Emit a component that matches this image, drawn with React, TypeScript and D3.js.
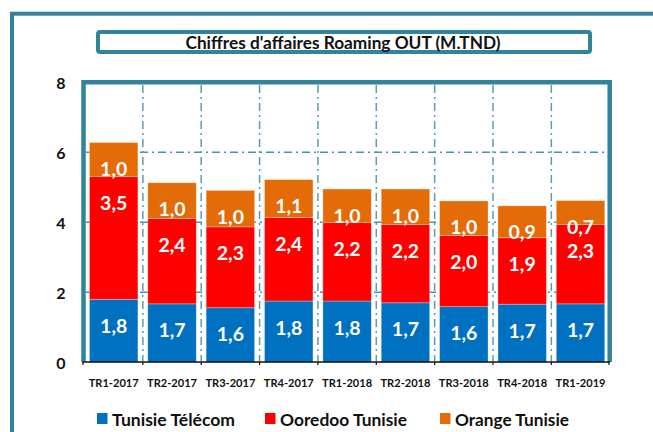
import React from 'react';
import * as d3 from 'd3';

// Chiffre d'affaires Roaming OUT par opérateur (M.TND)
const quarters = ['TR1-2017', 'TR2-2017', 'TR3-2017', 'TR4-2017', 'TR1-2018', 'TR2-2018', 'TR3-2018', 'TR4-2018', 'TR1-2019'];
const tunisieTelecom = [1.8, 1.67, 1.56, 1.75, 1.75, 1.7, 1.59, 1.66, 1.67];
const ooredoo = [3.51, 2.44, 2.31, 2.39, 2.24, 2.24, 2.03, 1.9, 2.27];
const orange = [0.97, 1.02, 1.04, 1.08, 0.96, 1.01, 0.99, 0.91, 0.68];
const seriesNames = ['Tunisie Télécom', 'Ooredoo Tunisie', 'Orange Tunisie'];
const seriesColors = ['#0070c0', '#ff0000', '#e36c09'];
const yTicks = [0, 2, 4, 6, 8];

const W = 653;
const H = 432;
const teal = '#31849b';
const font = 'Lato, "Open Sans", sans-serif';

const App: React.FC = () => {
  const x = d3.scaleBand<string>().domain(quarters).range([84.5, 609.7]).paddingInner(0.17).paddingOuter(0.085);
  const y = d3.scaleLinear().domain([0, 8]).range([362.3, 82.3]);
  const step = x.step();

  const rows = quarters.map((q, i) => ({ q, tt: tunisieTelecom[i], oo: ooredoo[i], or: orange[i] }));
  const stack = d3.stack<any>().keys(['tt', 'oo', 'or'])(rows);

  const fmt = (v: number) => v.toFixed(1).replace('.', ',');
  const boundaries = quarters.slice(1).map(q => (x(q) as number) - (step * 0.17) / 2);

  const legendX = [97, 265, 440];
  const legendW = [123, 127, 114];

  return (
    <div style={{ position: 'absolute', left: 0, top: 0 }}>
      <svg width={W} height={H} style={{ display: 'block', fontFamily: font }}>
        <rect width={W} height={H} fill="#fff" />
        {/* cadre extérieur */}
        <rect x={12} y={13.7} width={720} height={500} fill="none" stroke={teal} strokeWidth={4} />

        {/* titre */}
        <rect x={98} y={32} width={492} height={20} rx={2} fill="#fff" stroke={teal} strokeWidth={4} />
        <text x={343} y={43} textAnchor="middle" dominantBaseline="central" fontSize={16.5} fontWeight="bold"
          fill="#111" textLength={315} lengthAdjust="spacingAndGlyphs">
          Chiffres d'affaires Roaming OUT (M.TND)
        </text>

        {/* grille horizontale */}
        {[2, 4, 6].map(t => (
          <line key={t} x1={86} x2={608} y1={y(t)} y2={y(t)} stroke="#4a93a9" strokeWidth={1.5} strokeDasharray="8,4,2,4" />
        ))}
        {/* grille verticale */}
        {boundaries.map((b, i) => (
          <line key={i} x1={b} x2={b} y1={85} y2={361} stroke="#5a9db1" strokeWidth={1.5} strokeDasharray="8,4,2,4" />
        ))}

        {/* barres */}
        {stack.map((layer, si) => (
          <g key={si}>
            {layer.map((d, i) => (
              <rect key={i} x={x(quarters[i])} y={y(d[1])} width={x.bandwidth()} height={y(d[0]) - y(d[1])}
                fill={seriesColors[si]} stroke="#ffffff" strokeOpacity={0.35} strokeWidth={0.8} />
            ))}
          </g>
        ))}

        {/* étiquettes de données */}
        {stack.map((layer, si) => (
          <g key={'l' + si}>
            {layer.map((d, i) => (
              <text key={i} x={(x(quarters[i]) as number) + x.bandwidth() / 2} y={y(d[1]) + 26}
                textAnchor="middle" dominantBaseline="central" fill="#fff" fontSize={19.5} fontWeight="bold">
                {fmt(d[1] - d[0])}
              </text>
            ))}
          </g>
        ))}

        {/* cadre zone de tracé */}
        <path d={`M83.5,362 V82.3 H609.7 V362`} fill="none" stroke={teal} strokeWidth={4.5} />
        <line x1={82.5} x2={610} y1={362} y2={362} stroke="#111" strokeWidth={1.5} />
        {[83, ...boundaries, 609].map((b, i) => (
          <line key={i} x1={b} x2={b} y1={362} y2={365} stroke="#111" strokeWidth={1.2} />
        ))}

        {/* axe Y */}
        {yTicks.map(t => (
          <text key={t} x={61} y={y(t)} textAnchor="middle" dominantBaseline="central" fontSize={16} fontWeight="bold" fill="#111">
            {t}
          </text>
        ))}

        {/* axe X */}
        {quarters.map(q => (
          <text key={q} x={(x(q) as number) + x.bandwidth() / 2} y={382} textAnchor="middle" dominantBaseline="central"
            fontSize={11.5} fontWeight="bold" fill="#111" textLength={50} lengthAdjust="spacingAndGlyphs">
            {q}
          </text>
        ))}

        {/* légende */}
        {seriesNames.map((n, i) => (
          <g key={n}>
            <rect x={legendX[i]} y={413} width={10.5} height={11} fill={seriesColors[i]} />
            <text x={legendX[i] + 15} y={419} dominantBaseline="central" fontSize={17.5} fontWeight="bold" fill="#111"
              textLength={legendW[i]} lengthAdjust="spacingAndGlyphs">
              {n}
            </text>
          </g>
        ))}
      </svg>
    </div>
  );
};

export default App;
